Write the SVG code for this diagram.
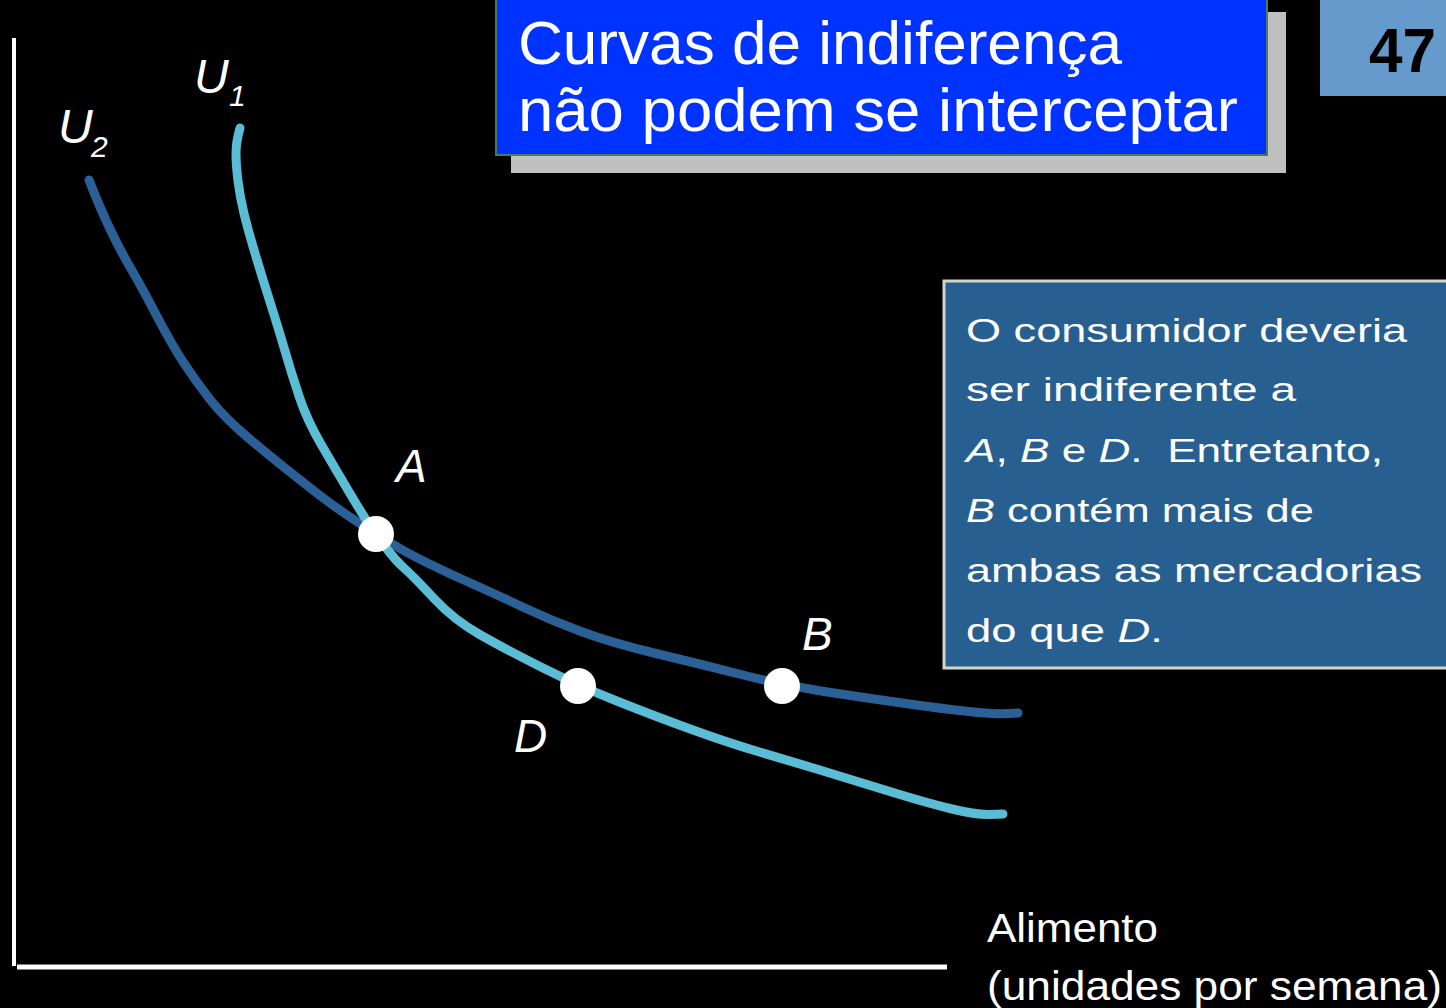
<svg xmlns="http://www.w3.org/2000/svg" width="1446" height="1008" viewBox="0 0 1446 1008">
<style>
.t{font-family:"Liberation Sans",Arial,sans-serif;fill:#ffffff}
.i{font-style:italic}
.curve{fill:none;stroke-width:9;stroke-linecap:round;stroke-linejoin:round}
.pt{fill:#ffffff}
</style>
<rect x="0" y="0" width="1446" height="1008" fill="#000000"/>
<g id="axes">
<line x1="14" y1="38" x2="14" y2="966" stroke="#ffffff" stroke-width="4"/>
<line x1="17" y1="967" x2="947" y2="967" stroke="#ffffff" stroke-width="5"/>
</g>
<g id="title">
<rect x="511" y="12" width="775" height="161" fill="#c0c0c0"/>
<rect x="496" y="-2" width="771" height="157" fill="#0033ff" stroke="#4a7a5c" stroke-width="2"/>
<text class="t" x="518" y="64" font-size="62" textLength="604" lengthAdjust="spacingAndGlyphs">Curvas de indiferença</text>
<text class="t" x="518" y="131" font-size="62" textLength="720" lengthAdjust="spacingAndGlyphs">não podem se interceptar</text>
</g>
<g id="slide-number">
<rect x="1320" y="0" width="130" height="96" fill="#6699cc"/>
<text x="1369" y="72" font-family="Liberation Sans,Arial,sans-serif" font-weight="bold" font-size="63" fill="#000000" textLength="67" lengthAdjust="spacingAndGlyphs">47</text>
</g>
<g id="connectors">
<path id="U2" class="curve" stroke="#2a6096" d="M89,180 Q100,208 110,229 Q120,250 130,267 Q140,284 156,314.5 Q172,345 183.5,362.5 Q195,380 208.5,397.5 Q222,415 241,431.5 Q260,448 280,464 Q300,480 318,494 Q336,508 356,521 Q376,534 391.5,543.5 Q407,553 428.5,563.5 Q450,574 471.5,583.5 Q493,593 521.5,606.5 Q550,620 581,631.5 Q612,643 656,653.5 Q700,664 741,674.5 Q782,685 821,691 Q860,697 895,702 Q930,707 955,710 Q980,713 992.5,713.5 Q1005,714 1018,713"/>
<path id="U1" class="curve" stroke="#5bbcd6" d="M240,128 Q236,142 236,153.5 Q236,165 238,181 Q240,197 244,213.5 Q248,230 255.5,255 Q263,280 270.5,303.5 Q278,327 285,351 Q292,375 299.5,397.5 Q307,420 321.5,445 Q336,470 350,493.5 Q364,517 370,525.5 Q376,534 385.5,547 Q395,560 404.5,568.5 Q414,577 434,598.5 Q454,620 480.5,635 Q507,650 543,668 Q579,686 618,701.5 Q657,717 693,730 Q729,743 759.5,752 Q790,761 816.5,769 Q843,777 885,790 Q927,803 952,809 Q977,815 990,814.5 L1003,814"/>
</g>
<g id="label-U1">
<text class="t i" x="194" y="93" font-size="48">U</text>
<text class="t i" x="229" y="106" font-size="30">1</text>
</g>
<g id="label-U2">
<text class="t i" x="58" y="143" font-size="48">U</text>
<text class="t i" x="91" y="157" font-size="30">2</text>
</g>
<g id="point-A">
<circle class="pt" cx="376" cy="534" r="18"/>
<text class="t i" x="396" y="482" font-size="46">A</text>
</g>
<g id="point-B">
<circle class="pt" cx="782" cy="686" r="18"/>
<text class="t i" x="802" y="650" font-size="46">B</text>
</g>
<g id="point-D">
<circle class="pt" cx="578" cy="686" r="18"/>
<text class="t i" x="514" y="752" font-size="46">D</text>
</g>
<g id="note">
<rect x="944" y="281" width="510" height="387" fill="#285f91" stroke="#d6d6c8" stroke-width="3"/>
<text class="t" x="966" y="342" font-size="34" textLength="441" lengthAdjust="spacingAndGlyphs">O consumidor deveria</text>
<text class="t" x="966" y="401" font-size="34" textLength="330" lengthAdjust="spacingAndGlyphs">ser indiferente a</text>
<text class="t" x="966" y="462" font-size="34" textLength="417" lengthAdjust="spacingAndGlyphs"><tspan class="i">A</tspan>, <tspan class="i">B</tspan> e <tspan class="i">D</tspan>.&#160; Entretanto,</text>
<text class="t" x="966" y="522" font-size="34" textLength="348" lengthAdjust="spacingAndGlyphs"><tspan class="i">B</tspan> contém mais de</text>
<text class="t" x="966" y="582" font-size="34" textLength="456" lengthAdjust="spacingAndGlyphs">ambas as mercadorias</text>
<text class="t" x="966" y="642" font-size="34" textLength="197" lengthAdjust="spacingAndGlyphs">do que <tspan class="i">D</tspan>.</text>
</g>
<g id="axis-label">
<text class="t" x="987" y="942" font-size="40" textLength="171" lengthAdjust="spacingAndGlyphs">Alimento</text>
<text class="t" x="987" y="1000" font-size="40" textLength="455" lengthAdjust="spacingAndGlyphs">(unidades por semana)</text>
</g>
</svg>
